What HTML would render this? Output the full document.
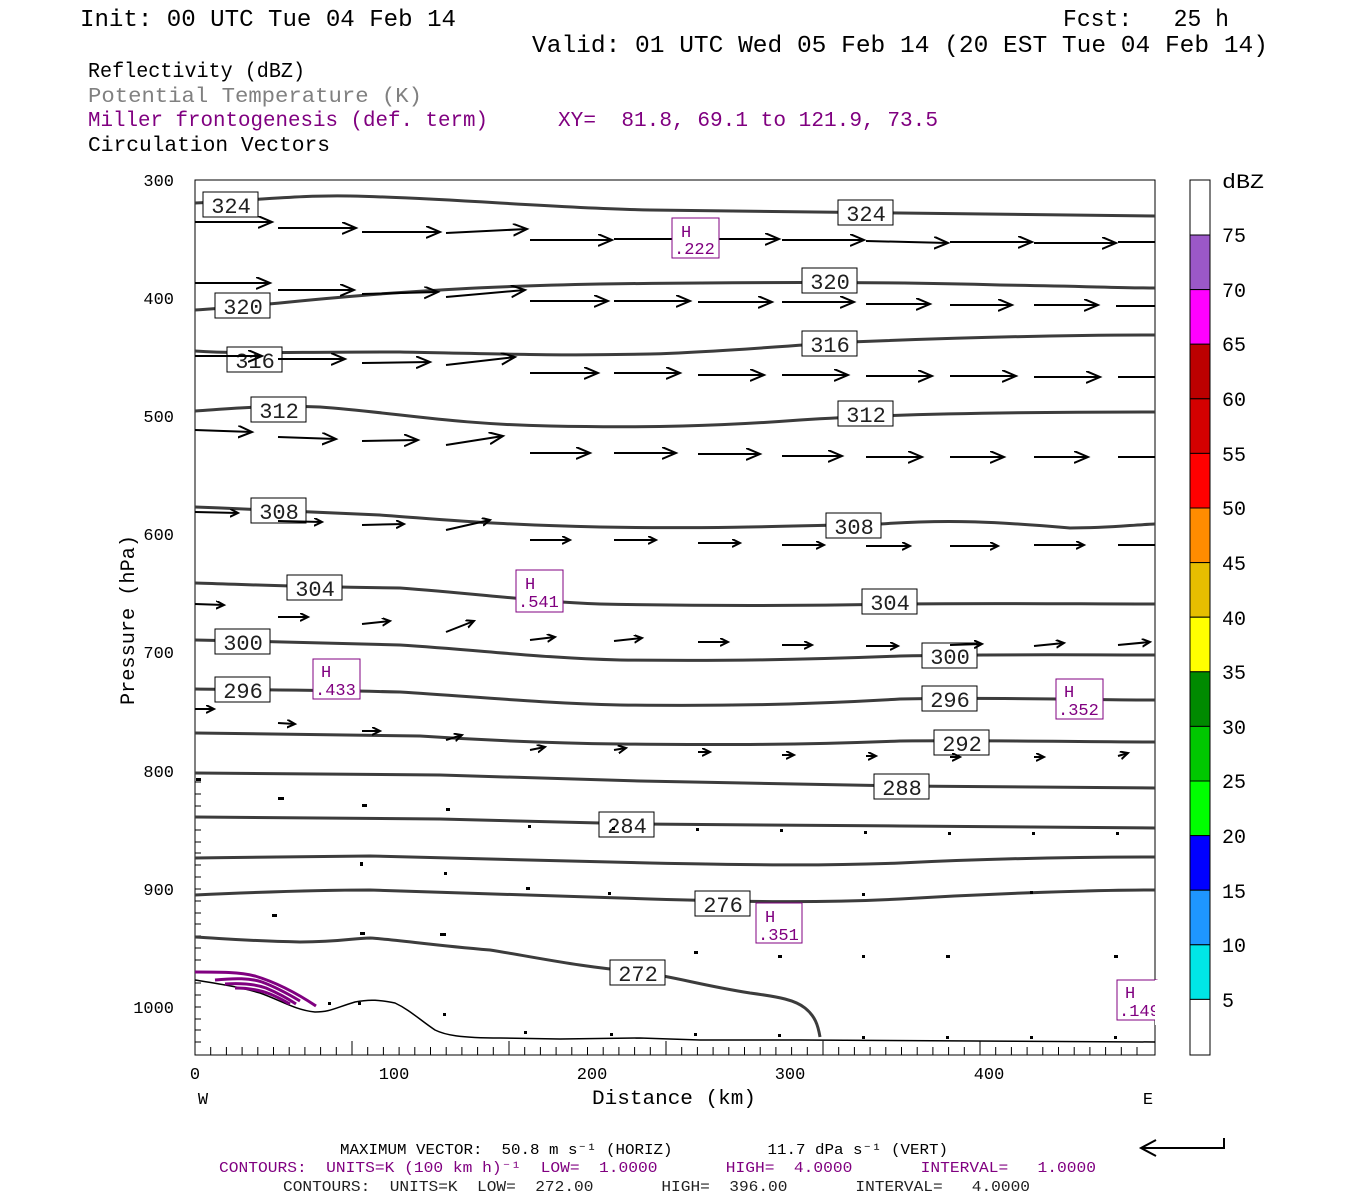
<!DOCTYPE html>
<html><head><meta charset="utf-8"><style>
html,body{margin:0;padding:0;background:#fff;}
svg{display:block;}
text{font-family:"Liberation Mono","DejaVu Sans Mono",monospace;white-space:pre;}
</style></head><body>
<svg width="1350" height="1200" viewBox="0 0 1350 1200" xmlns="http://www.w3.org/2000/svg" xml:space="preserve">
<defs>
<marker id="ah" markerUnits="userSpaceOnUse" markerWidth="20" markerHeight="14" refX="14" refY="6" orient="auto">
<path d="M0,0 L14,6 L0,12" fill="none" stroke="#000" stroke-width="2"/></marker>
<marker id="as" markerUnits="userSpaceOnUse" markerWidth="12" markerHeight="10" refX="8" refY="4" orient="auto">
<path d="M0,0 L8,4 L0,8" fill="none" stroke="#000" stroke-width="2"/></marker>
</defs>
<text x="80" y="26" font-size="24" textLength="376" lengthAdjust="spacingAndGlyphs">Init: 00 UTC Tue 04 Feb 14</text>
<text x="1063" y="26" font-size="24" textLength="166" lengthAdjust="spacingAndGlyphs">Fcst:   25 h</text>
<text x="532" y="52" font-size="24" textLength="736" lengthAdjust="spacingAndGlyphs">Valid: 01 UTC Wed 05 Feb 14 (20 EST Tue 04 Feb 14)</text>
<text x="88" y="77" font-size="21" textLength="217" lengthAdjust="spacingAndGlyphs">Reflectivity (dBZ)</text>
<text x="88" y="102" font-size="21" fill="#808080" textLength="334" lengthAdjust="spacingAndGlyphs">Potential Temperature (K)</text>
<text x="88" y="126" font-size="21" fill="#800080" textLength="400" lengthAdjust="spacingAndGlyphs">Miller frontogenesis (def. term)</text>
<text x="558" y="126" font-size="21" fill="#800080" textLength="380" lengthAdjust="spacingAndGlyphs">XY=  81.8, 69.1 to 121.9, 73.5</text>
<text x="88" y="151" font-size="21" textLength="242" lengthAdjust="spacingAndGlyphs">Circulation Vectors</text>

<rect x="195" y="180" width="960" height="875" fill="#fff" stroke="#000" stroke-width="1"/>
<g stroke="#000" stroke-width="1">
<path d="M195,1055 v-8 M210.7,1055 v-8 M226.4,1055 v-8 M242.1,1055 v-8 M257.8,1055 v-8 M273.5,1055 v-8 M289.2,1055 v-8 M304.9,1055 v-8 M320.6,1055 v-8 M336.3,1055 v-8 M352,1055 v-14 M367.7,1055 v-8 M383.4,1055 v-8 M399.1,1055 v-8 M414.8,1055 v-8 M430.5,1055 v-8 M446.2,1055 v-8 M461.9,1055 v-8 M477.6,1055 v-8 M493.3,1055 v-8 M509,1055 v-14 M524.7,1055 v-8 M540.4,1055 v-8 M556.1,1055 v-8 M571.8,1055 v-8 M587.5,1055 v-8 M603.2,1055 v-8 M618.9,1055 v-8 M634.6,1055 v-8 M650.3,1055 v-8 M666,1055 v-14 M681.7,1055 v-8 M697.4,1055 v-8 M713.1,1055 v-8 M728.8,1055 v-8 M744.5,1055 v-8 M760.2,1055 v-8 M775.9,1055 v-8 M791.6,1055 v-8 M807.3,1055 v-8 M823,1055 v-14 M838.7,1055 v-8 M854.4,1055 v-8 M870.1,1055 v-8 M885.8,1055 v-8 M901.5,1055 v-8 M917.2,1055 v-8 M932.9,1055 v-8 M948.6,1055 v-8 M964.3,1055 v-8 M980,1055 v-14 M995.7,1055 v-8 M1011.4,1055 v-8 M1027.1,1055 v-8 M1042.8,1055 v-8 M1058.5,1055 v-8 M1074.2,1055 v-8 M1089.9,1055 v-8 M1105.6,1055 v-8 M1121.3,1055 v-8 M1137,1055 v-8"/>
<path d="M195,1042 h6 M195,1030 h6 M195,1019 h6 M195,1007 h6 M195,995 h6 M195,983 h6 M195,972 h6 M195,960 h6 M195,948 h6 M195,936 h6 M195,924 h6 M195,913 h6 M195,901 h6 M195,889 h6 M195,877 h6 M195,865 h6 M195,853 h6 M195,842 h6 M195,830 h6 M195,818 h6 M195,806 h6 M195,794 h6 M195,782 h6"/>
</g>
<g font-size="17" text-anchor="end">
<text x="174" y="186">300</text><text x="174" y="304">400</text><text x="174" y="422">500</text>
<text x="174" y="540">600</text><text x="174" y="658">700</text><text x="174" y="777">800</text>
<text x="174" y="895">900</text><text x="174" y="1013">1000</text>
</g>
<g font-size="17" text-anchor="middle">
<text x="195" y="1079">0</text><text x="394" y="1079">100</text><text x="592" y="1079">200</text>
<text x="790" y="1079">300</text><text x="989" y="1079">400</text>
<text x="203" y="1104">W</text><text x="1148" y="1104">E</text>
<text x="674" y="1104" font-size="20" textLength="164" lengthAdjust="spacingAndGlyphs">Distance (km)</text>
<text transform="translate(134,620) rotate(-90)" font-size="20" textLength="170" lengthAdjust="spacingAndGlyphs">Pressure (hPa)</text>
</g>

<g fill="none" stroke="#3c3c3c" stroke-width="3" stroke-linejoin="round">
<path d="M195,203 C260,200 300,195 350,196 C450,198 550,208 650,210 C800,212 950,213 1155,216"/>
<path d="M195,310 C260,306 300,300 380,294 C450,289 500,286 600,284 C750,282 900,282 1000,285 C1080,286 1120,288 1155,288"/>
<path d="M195,351 C240,354 280,352 400,352 C500,354 560,356 650,354 C720,352 780,346 850,342 C950,338 1050,335 1155,335"/>
<path d="M195,411 C240,408 270,405 320,407 C400,413 450,424 550,426 C650,428 720,426 800,420 C900,413 1050,412 1155,412"/>
<path d="M195,507 C250,509 300,511 380,515 C450,520 500,525 600,527 C700,529 800,526 880,524 C950,519 1000,522 1070,528 C1110,528 1130,525 1155,524"/>
<path d="M195,583 C260,585 300,587 400,588 C480,594 540,602 600,604 C700,606 800,606 900,604 C1000,603 1080,604 1155,604"/>
<path d="M195,640 C260,641 300,643 400,645 C480,650 540,658 620,660 C720,661 800,660 900,656 C1000,654 1080,655 1155,655"/>
<path d="M195,689 C260,690 320,690 400,692 C480,697 540,703 620,705 C720,706 800,705 900,699 C1000,697 1080,700 1155,700"/>
<path d="M195,733 C260,734 340,735 420,736 C480,740 540,743 620,744 C720,745 800,745 900,741 C1000,740 1080,742 1155,742"/>
<path d="M195,773 C280,773 360,774 440,775 C500,777 560,779 640,781 C740,783 840,785 900,786 C1000,787 1100,788 1155,788"/>
<path d="M195,817 C280,817 360,818 440,819 C500,820 560,822 640,824 C740,825 840,826 900,826 C1000,827 1100,828 1155,828"/>
<path d="M195,858 C260,857 330,856 370,856 C450,858 550,861 650,863 C750,865 820,866 900,863 C1000,858 1100,857 1155,857"/>
<path d="M195,895 C260,892 330,890 370,890 C450,893 550,896 650,899 C750,902 820,903 900,899 C1000,893 1100,890 1155,890"/>
<path d="M195,937 C230,939 250,941 300,942 C340,942 355,938 370,938 C400,940 430,945 490,950 C540,958 580,967 640,972 C680,978 700,985 750,993 C780,997 795,1000 805,1008 C815,1016 818,1025 820,1037"/>
</g>
<path d="M195,980 C220,984 240,987 260,993 C280,1000 295,1010 315,1012 C330,1012 335,1008 355,1002 C370,999 380,1000 395,1003 C410,1010 420,1020 435,1030 C445,1035 460,1038 500,1038 L560,1039 L640,1038 L700,1040 L800,1040 L1155,1042" fill="none" stroke="#000" stroke-width="1.5"/>
<g fill="none" stroke="#800080" stroke-width="3">
<path d="M195,972 C220,972 240,972 255,976 C275,982 295,992 316,1006"/>
<path d="M215,980 C235,978 250,978 262,982 C278,988 290,995 300,1001"/>
<path d="M225,984 C242,983 255,984 266,988 C280,994 290,1000 296,1004"/>
<path d="M235,988 C250,988 260,990 270,994 C280,998 286,1002 290,1004"/>
</g>

<g font-size="22" text-anchor="middle">
<g fill="#fff" stroke="#000" stroke-width="1">
<rect x="203" y="192" width="55" height="25"/><rect x="838" y="200" width="55" height="25"/>
<rect x="215" y="293" width="55" height="25"/><rect x="802" y="268" width="55" height="25"/>
<rect x="227" y="347" width="55" height="25"/><rect x="802" y="331" width="55" height="25"/>
<rect x="251" y="397" width="55" height="25"/><rect x="838" y="401" width="55" height="25"/>
<rect x="251" y="498" width="55" height="25"/><rect x="826" y="513" width="55" height="25"/>
<rect x="287" y="575" width="55" height="25"/><rect x="862" y="589" width="55" height="25"/>
<rect x="215" y="629" width="55" height="25"/><rect x="922" y="643" width="55" height="25"/>
<rect x="215" y="677" width="55" height="25"/><rect x="922" y="686" width="55" height="25"/>
<rect x="934" y="730" width="55" height="25"/><rect x="874" y="774" width="55" height="25"/>
<rect x="599" y="812" width="55" height="25"/><rect x="695" y="891" width="55" height="25"/>
<rect x="610" y="960" width="55" height="25"/>
</g>
<g fill="#202020">
<text x="231" y="213">324</text><text x="866" y="221">324</text>
<text x="243" y="314">320</text><text x="830" y="289">320</text>
<text x="255" y="368">316</text><text x="830" y="352">316</text>
<text x="279" y="418">312</text><text x="866" y="422">312</text>
<text x="279" y="519">308</text><text x="854" y="534">308</text>
<text x="315" y="596">304</text><text x="890" y="610">304</text>
<text x="243" y="650">300</text><text x="950" y="664">300</text>
<text x="243" y="698">296</text><text x="950" y="707">296</text>
<text x="962" y="751">292</text><text x="902" y="795">288</text>
<text x="627" y="833">284</text><text x="723" y="912">276</text>
<text x="638" y="981">272</text>
</g>
</g>

<g stroke="#000" stroke-width="2" fill="none" marker-end="url(#ah)">
<path d="M195,222 L272,222"/><path d="M278,228 L356,228"/><path d="M362,232 L440,232"/><path d="M446,233 L527,229"/>
<path d="M530,240 L612,240"/><path d="M614,239 L696,239"/><path d="M698,239 L779,239"/><path d="M782,240 L864,240"/>
<path d="M866,241 L948,243"/><path d="M950,242 L1032,242"/><path d="M1034,243 L1116,243"/><path d="M1118,242 L1155,242" marker-end="none"/>
<path d="M195,283 L270,283"/><path d="M278,290 L354,290"/><path d="M362,294 L438,292"/><path d="M446,297 L525,290"/>
<path d="M530,301 L608,301"/><path d="M614,301 L690,301"/><path d="M698,302 L772,302"/><path d="M782,302 L854,302"/>
<path d="M866,304 L930,304"/><path d="M950,305 L1012,305"/><path d="M1034,305 L1098,305"/><path d="M1116,306 L1155,306" marker-end="none"/>
<path d="M195,356 L262,356"/><path d="M278,359 L345,359"/><path d="M362,363 L430,362"/><path d="M446,365 L515,357"/>
<path d="M530,373 L598,373"/><path d="M614,373 L680,373"/><path d="M698,375 L764,375"/><path d="M782,375 L848,375"/>
<path d="M866,376 L932,376"/><path d="M950,376 L1016,376"/><path d="M1034,377 L1100,377"/><path d="M1118,377 L1155,377" marker-end="none"/>
<path d="M195,430 L252,432"/><path d="M278,437 L336,439"/><path d="M362,441 L418,440"/><path d="M446,445 L503,436"/>
<path d="M530,453 L590,453"/><path d="M614,453 L676,453"/><path d="M698,454 L760,454"/><path d="M782,456 L842,456"/>
<path d="M866,457 L922,457"/><path d="M950,457 L1004,457"/><path d="M1034,457 L1088,457"/><path d="M1118,457 L1155,457" marker-end="none"/>
</g>
<g stroke="#000" stroke-width="2" fill="none" marker-end="url(#as)">
<path d="M195,512 L238,513"/><path d="M278,521 L322,522"/><path d="M362,525 L404,524"/><path d="M446,530 L490,520"/>
<path d="M530,540 L570,540"/><path d="M614,540 L656,540"/><path d="M698,543 L740,543"/><path d="M782,545 L824,545"/>
<path d="M866,546 L910,546"/><path d="M950,546 L998,546"/><path d="M1034,545 L1084,545"/><path d="M1118,545 L1155,545" marker-end="none"/>
<path d="M195,604 L224,605"/><path d="M278,617 L308,617"/><path d="M362,624 L390,621"/><path d="M446,632 L474,621"/>
<path d="M530,640 L555,637"/><path d="M614,641 L642,638"/><path d="M698,642 L728,642"/><path d="M782,645 L812,645"/>
<path d="M866,646 L898,646"/><path d="M950,645 L982,644"/><path d="M1034,646 L1064,643"/><path d="M1118,645 L1150,642"/>
<path d="M195,709 L214,709"/><path d="M278,723 L295,724"/><path d="M362,731 L380,731"/><path d="M446,740 L462,735"/>
<path d="M530,750 L545,747"/><path d="M614,750 L626,748"/><path d="M698,752 L710,752"/><path d="M782,755 L794,755"/>
<path d="M866,756 L876,756"/><path d="M950,757 L960,757"/><path d="M1034,757 L1044,757"/><path d="M1118,756 L1128,753"/>
</g>
<g fill="#000">
<rect x="196" y="778" width="5" height="3"/><rect x="278" y="797" width="6" height="3"/><rect x="362" y="804" width="5" height="3"/><rect x="446" y="808" width="4" height="3"/>
<rect x="528" y="825" width="3" height="3"/><rect x="612" y="827" width="3" height="3"/><rect x="696" y="828" width="3" height="3"/><rect x="780" y="829" width="3" height="3"/>
<rect x="864" y="831" width="3" height="3"/><rect x="948" y="832" width="3" height="3"/><rect x="1032" y="832" width="3" height="3"/><rect x="1116" y="832" width="3" height="3"/>
<rect x="360" y="862" width="3" height="4"/><rect x="444" y="872" width="3" height="3"/>
<rect x="272" y="914" width="5" height="3"/><rect x="360" y="932" width="5" height="3"/><rect x="440" y="933" width="6" height="3"/><rect x="526" y="887" width="4" height="3"/>
<rect x="608" y="892" width="3" height="3"/><rect x="694" y="951" width="4" height="3"/><rect x="778" y="955" width="4" height="3"/><rect x="862" y="893" width="3" height="3"/>
<rect x="946" y="955" width="4" height="3"/><rect x="1030" y="891" width="3" height="3"/><rect x="1114" y="955" width="4" height="3"/><rect x="862" y="955" width="3" height="3"/>
<rect x="524" y="1031" width="3" height="3"/><rect x="610" y="1033" width="3" height="3"/><rect x="694" y="1033" width="3" height="3"/><rect x="778" y="1034" width="3" height="3"/>
<rect x="862" y="1036" width="3" height="3"/><rect x="946" y="1036" width="3" height="3"/><rect x="1030" y="1036" width="3" height="3"/><rect x="1114" y="1036" width="3" height="3"/>
<rect x="328" y="1002" width="3" height="3"/><rect x="358" y="1002" width="3" height="3"/><rect x="443" y="1013" width="3" height="3"/>
</g>

<g fill="#fff" stroke="#800080" stroke-width="1">
<rect x="672" y="218" width="47" height="40"/><rect x="516" y="570" width="47" height="42"/>
<rect x="313" y="659" width="47" height="40"/><rect x="1056" y="679" width="47" height="40"/>
<rect x="756" y="903" width="46" height="40"/><rect x="1117" y="980" width="40" height="40"/>
</g>
<g fill="#800080" font-size="17">
<text x="681" y="237">H</text><text x="674" y="254">.222</text>
<text x="525" y="589">H</text><text x="518" y="607">.541</text>
<text x="321" y="677">H</text><text x="315" y="695">.433</text>
<text x="1064" y="697">H</text><text x="1058" y="715">.352</text>
<text x="765" y="922">H</text><text x="758" y="940">.351</text>
<text x="1125" y="998">H</text><text x="1119" y="1016">.149</text>
</g>
<rect x="1155" y="980" width="30" height="45" fill="#fff"/>

<g stroke="#000" stroke-width="1">
<rect x="1190" y="180" width="20" height="55" fill="#fff"/>
<rect x="1190" y="235" width="20" height="54.6" fill="#9b58c8"/>
<rect x="1190" y="289.6" width="20" height="54.6" fill="#ff00ff"/>
<rect x="1190" y="344.2" width="20" height="54.6" fill="#bc0000"/>
<rect x="1190" y="398.8" width="20" height="54.6" fill="#d40000"/>
<rect x="1190" y="453.4" width="20" height="54.6" fill="#ff0000"/>
<rect x="1190" y="508" width="20" height="54.6" fill="#ff8c00"/>
<rect x="1190" y="562.6" width="20" height="54.6" fill="#e6be00"/>
<rect x="1190" y="617.2" width="20" height="54.6" fill="#ffff00"/>
<rect x="1190" y="671.8" width="20" height="54.6" fill="#008a00"/>
<rect x="1190" y="726.4" width="20" height="54.6" fill="#00c800"/>
<rect x="1190" y="781" width="20" height="54.6" fill="#00ff00"/>
<rect x="1190" y="835.6" width="20" height="54.6" fill="#0000ff"/>
<rect x="1190" y="890.2" width="20" height="54.6" fill="#1e96ff"/>
<rect x="1190" y="944.8" width="20" height="54.6" fill="#00e6e6"/>
<rect x="1190" y="999.4" width="20" height="55.6" fill="#fff"/>
</g>
<g font-size="20">
<text x="1222" y="188" textLength="42" lengthAdjust="spacingAndGlyphs">dBZ</text>
<text x="1222" y="242">75</text><text x="1222" y="297">70</text><text x="1222" y="351">65</text>
<text x="1222" y="406">60</text><text x="1222" y="461">55</text><text x="1222" y="515">50</text>
<text x="1222" y="570">45</text><text x="1222" y="625">40</text><text x="1222" y="679">35</text>
<text x="1222" y="734">30</text><text x="1222" y="788">25</text><text x="1222" y="843">20</text>
<text x="1222" y="898">15</text><text x="1222" y="952">10</text><text x="1222" y="1007">5</text>
</g>

<g font-family="Liberation Serif, serif" font-size="15">
<text x="340" y="1154" textLength="608" lengthAdjust="spacingAndGlyphs">MAXIMUM VECTOR:  50.8 m s⁻¹ (HORIZ)          11.7 dPa s⁻¹ (VERT)</text>
<text x="219" y="1172" fill="#800080" textLength="877" lengthAdjust="spacingAndGlyphs">CONTOURS:  UNITS=K (100 km h)⁻¹  LOW=  1.0000       HIGH=  4.0000       INTERVAL=   1.0000</text>
<text x="283" y="1191" fill="#202020" textLength="747" lengthAdjust="spacingAndGlyphs">CONTOURS:  UNITS=K  LOW=  272.00       HIGH=  396.00       INTERVAL=   4.0000</text>
</g>
<g stroke="#000" stroke-width="2" fill="none">
<path d="M1141,1148 L1224,1148 L1224,1138"/>
<path d="M1156,1140 L1141,1148 L1156,1156"/>
</g>
</svg>
</body></html>
